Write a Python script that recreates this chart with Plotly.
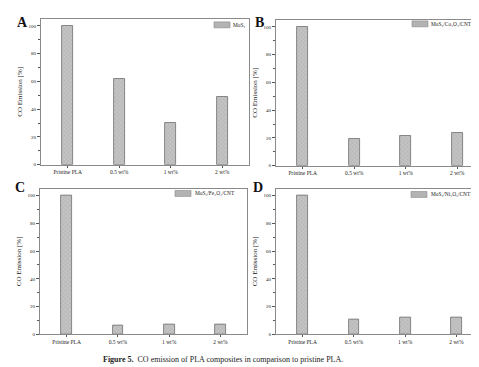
import plotly.graph_objects as go

categories = ["Pristine PLA", "0.5 wt%", "1 wt%", "2 wt%"]
values_a = [100, 62, 30, 48.5]
values_b = [100, 19, 21.5, 23.5]
values_c = [100, 6.3, 7, 7.2]
values_d = [100, 10.8, 12, 12]
legend_names = [
    "MoS₂",
    "MoS₂/Co₃O₄/CNT",
    "MoS₂/Fe₃O₄/CNT",
    "MoS₂/Ni₂O₃/CNT",
]
panel_letters = ["A", "B", "C", "D"]
ytick_vals = [0, 20, 40, 60, 80, 100]

W, H = 479, 367
# panel boxes in pixels: (left, top, right, bottom)
boxes = [(33, 11, 241, 158), (268, 12, 476, 159), (32, 182, 239, 329), (268, 182, 475, 329)]
letter_pos = [(14, 15), (251, 15), (12, 181), (250, 181)]
legend_rect = [(206, 14, 222, 20), (404, 13, 420, 19), (167, 184, 183, 190), (403, 185, 419, 191)]
legend_text_left = [223, 421, 185, 421]

SERIF = "Liberation Serif"
fig = go.Figure()
all_vals = [values_a, values_b, values_c, values_d]
shapes = []
annotations = []
layout = {}
for i, vals in enumerate(all_vals):
    n = "" if i == 0 else str(i + 1)
    fig.add_trace(go.Bar(
        x=list(range(len(categories))), y=vals, width=0.21,
        xaxis="x" + n, yaxis="y" + n, showlegend=False,
        marker=dict(color="#b8b8b8",
                    line=dict(color="#6f6f6f", width=0.8),
                    pattern=dict(shape="x", fgcolor="#8a8a8a", bgcolor="#c4c4c4",
                                 size=3, solidity=0.25)),
    ))
    l, t, r, b = boxes[i]
    layout["xaxis" + n] = dict(
        domain=[l / W, r / W], anchor="y" + n, range=[-0.52, 3.52],
        tickmode="array", tickvals=list(range(len(categories))), ticktext=categories,
        ticks="outside", ticklen=2, tickwidth=0.8, tickcolor="#555",
        showline=True, linecolor="#8a8a8a", linewidth=1, mirror=True,
        showgrid=False, zeroline=False,
        tickfont=dict(family=SERIF, size=5.5, color="#222"),
    )
    layout["yaxis" + n] = dict(
        domain=[1 - b / H, 1 - t / H], anchor="x" + n, range=[0, 105],
        tickmode="array", tickvals=ytick_vals,
        ticks="outside", ticklen=3, tickwidth=0.8, tickcolor="#555",
        minor=dict(tickvals=[10, 30, 50, 70, 90], ticks="outside", ticklen=2,
                   tickcolor="#555", tickwidth=0.6),
        showline=True, linecolor="#8a8a8a", linewidth=1, mirror=True,
        showgrid=False, zeroline=False,
        tickfont=dict(family=SERIF, size=5, color="#222"),
        title=dict(text="CO Emission [%]", font=dict(family=SERIF, size=7, color="#222"),
                   standoff=5),
    )
    # legend swatch and text
    rl, rt, rr, rb = legend_rect[i]
    shapes.append(dict(type="rect", xref="paper", yref="paper",
                       x0=rl / W, x1=rr / W, y0=1 - rb / H, y1=1 - rt / H,
                       fillcolor="#b3b3b3", line=dict(color="#8a8a8a", width=0.6)))
    annotations.append(dict(text=legend_names[i], xref="paper", yref="paper",
                            x=legend_text_left[i] / W, y=1 - (rt + rb) / 2 / H,
                            xanchor="left", yanchor="middle", showarrow=False,
                            font=dict(family=SERIF, size=5.4, color="#222")))
    lx, ly = letter_pos[i]
    annotations.append(dict(text="<b>" + panel_letters[i] + "</b>", xref="paper", yref="paper",
                            x=lx / W, y=1 - ly / H, xanchor="center", yanchor="middle",
                            showarrow=False, font=dict(family=SERIF, size=14, color="#111")))

annotations.append(dict(
    text="<b>Figure 5.</b>  CO emission of PLA composites in comparison to pristine PLA.",
    xref="paper", yref="paper", x=93 / W, y=1 - 354 / H, xanchor="left", yanchor="middle",
    showarrow=False, font=dict(family=SERIF, size=8, color="#222")))

fig.update_layout(
    width=W, height=H, margin=dict(l=0, r=0, t=0, b=0),
    paper_bgcolor="white", plot_bgcolor="white",
    shapes=shapes, annotations=annotations, bargap=0,
    **layout,
)
fig.write_html("out.html")
